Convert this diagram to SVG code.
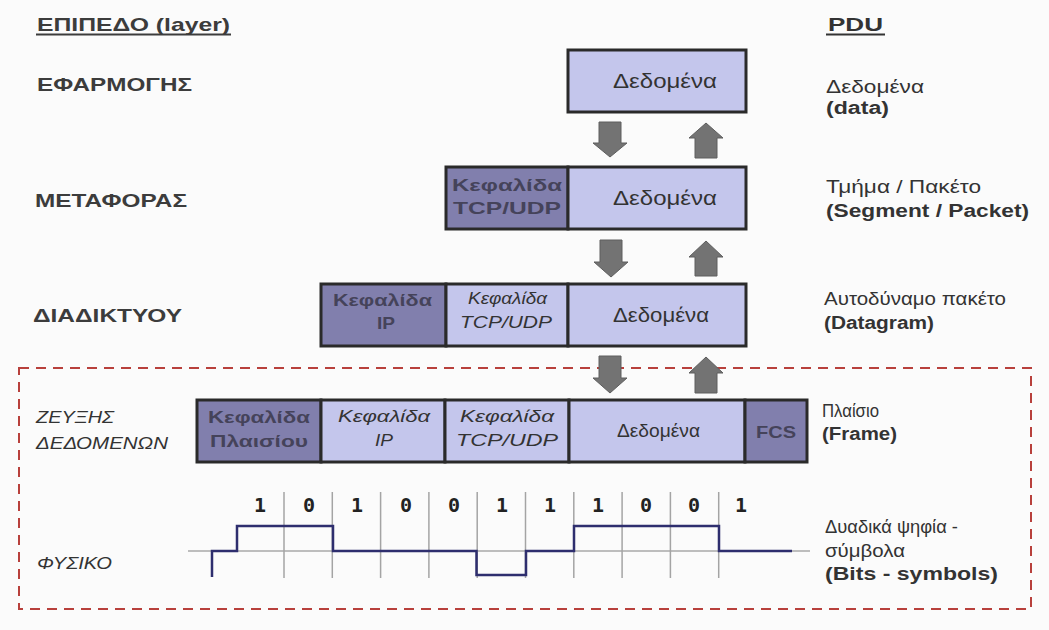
<svg xmlns="http://www.w3.org/2000/svg" width="1049" height="630" viewBox="0 0 1049 630">
<style>
.bl{fill:#c4c6ec;stroke:#2a2a2a;stroke-width:3}
.bd{fill:#817fad;stroke:#2a2a2a;stroke-width:3}
.t{font-family:"Liberation Sans",Arial,sans-serif;fill:#333}
.b{font-weight:bold}
.i{font-style:italic}
.hd{fill:#45435a;font-weight:bold;font-size:17px}
.hi{font-style:italic;font-size:17px;fill:#333}
.lab{font-size:19px;font-weight:bold;fill:#3c3c3c}
.r{font-size:18px}
.arr{fill:#737373;stroke:#5e5e5e;stroke-width:1}
.grid{stroke:#a4a4a4;stroke-width:1.5}
.bit{font-family:"DejaVu Sans Mono","Liberation Mono",monospace;font-weight:bold;font-size:20px;fill:#222;text-anchor:middle}
</style>
<rect width="1049" height="630" fill="#fbfbfb"/>

<g id="frame-link-physical">
<rect x="19" y="368" width="1012" height="241" fill="none" stroke="#b8403c" stroke-width="2" stroke-dasharray="10 7"/>
</g>

<g id="layer-labels" class="t">
<text class="b" x="37" y="31" font-size="18.5" textLength="193" lengthAdjust="spacingAndGlyphs" fill="#3c3c3c">ΕΠΙΠΕΔΟ (layer)</text>
<line x1="36" y1="34.5" x2="231" y2="34.5" stroke="#3c3c3c" stroke-width="2"/>
<text class="lab" x="37" y="91" textLength="155" lengthAdjust="spacingAndGlyphs">ΕΦΑΡΜΟΓΗΣ</text>
<text class="lab" x="35" y="207" textLength="152" lengthAdjust="spacingAndGlyphs">ΜΕΤΑΦΟΡΑΣ</text>
<text class="lab" x="33" y="322" textLength="149" lengthAdjust="spacingAndGlyphs">ΔΙΑΔΙΚΤΥΟΥ</text>
<text class="i" x="36" y="423" font-size="17" textLength="78" lengthAdjust="spacingAndGlyphs">ΖΕΥΞΗΣ</text>
<text class="i" x="36" y="449" font-size="17" textLength="132" lengthAdjust="spacingAndGlyphs">ΔΕΔΟΜΕΝΩΝ</text>
<text class="i" x="37" y="569" font-size="17" textLength="75" lengthAdjust="spacingAndGlyphs">ΦΥΣΙΚΟ</text>
</g>

<g id="pdu-labels" class="t r">
<text class="b" x="828" y="31" font-size="18.5" textLength="55" lengthAdjust="spacingAndGlyphs">PDU</text>
<line x1="826" y1="34.5" x2="885" y2="34.5" stroke="#333" stroke-width="2"/>
<text x="826" y="93" textLength="98" lengthAdjust="spacingAndGlyphs">Δεδομένα</text>
<text class="b" x="826" y="114" textLength="63" lengthAdjust="spacingAndGlyphs">(data)</text>
<text x="826" y="193" textLength="155" lengthAdjust="spacingAndGlyphs">Τμήμα / Πακέτο</text>
<text class="b" x="826" y="217" textLength="203" lengthAdjust="spacingAndGlyphs">(Segment / Packet)</text>
<text x="824" y="305" textLength="182" lengthAdjust="spacingAndGlyphs">Αυτοδύναμο πακέτο</text>
<text class="b" x="824" y="329" textLength="110" lengthAdjust="spacingAndGlyphs">(Datagram)</text>
<text x="822" y="417" textLength="57" lengthAdjust="spacingAndGlyphs">Πλαίσιο</text>
<text class="b" x="822" y="440" textLength="75" lengthAdjust="spacingAndGlyphs">(Frame)</text>
<text x="825" y="533" textLength="133" lengthAdjust="spacingAndGlyphs">Δυαδικά ψηφία -</text>
<text x="825" y="557" textLength="80" lengthAdjust="spacingAndGlyphs">σύμβολα</text>
<text class="b" x="825" y="580" textLength="173" lengthAdjust="spacingAndGlyphs">(Bits - symbols)</text>
</g>

<g id="application" class="t">
<rect class="bl" x="568" y="50" width="178" height="62"/>
<text x="613" y="88" font-size="21" textLength="104" lengthAdjust="spacingAndGlyphs">Δεδομένα</text>
</g>

<g id="transport" class="t">
<rect class="bd" x="446" y="167" width="122" height="62"/>
<rect class="bl" x="568" y="167" width="178" height="62"/>
<text class="hd" x="452" y="191" textLength="110" lengthAdjust="spacingAndGlyphs">Κεφαλίδα</text>
<text class="hd" x="453" y="214" textLength="108" lengthAdjust="spacingAndGlyphs">TCP/UDP</text>
<text x="613" y="205" font-size="21" textLength="104" lengthAdjust="spacingAndGlyphs">Δεδομένα</text>
</g>

<g id="internet" class="t">
<rect class="bd" x="321" y="284" width="125" height="62"/>
<rect class="bl" x="446" y="284" width="122" height="62"/>
<rect class="bl" x="568" y="284" width="178" height="62"/>
<text class="hd" x="333" y="306" textLength="99" lengthAdjust="spacingAndGlyphs">Κεφαλίδα</text>
<text class="hd" x="377" y="329" textLength="18" lengthAdjust="spacingAndGlyphs">IP</text>
<text class="hi" x="468" y="304" textLength="79" lengthAdjust="spacingAndGlyphs">Κεφαλίδα</text>
<text class="hi" x="460" y="328" textLength="92" lengthAdjust="spacingAndGlyphs">TCP/UDP</text>
<text x="613" y="322" font-size="21" textLength="96" lengthAdjust="spacingAndGlyphs">Δεδομένα</text>
</g>

<g id="link" class="t">
<rect class="bd" x="197" y="400" width="124" height="62"/>
<rect class="bl" x="321" y="400" width="124" height="62"/>
<rect class="bl" x="445" y="400" width="124" height="62"/>
<rect class="bl" x="569" y="400" width="176" height="62"/>
<rect class="bd" x="745" y="400" width="62" height="62"/>
<text class="hd" x="208" y="423" textLength="102" lengthAdjust="spacingAndGlyphs">Κεφαλίδα</text>
<text class="hd" x="210" y="447" textLength="98" lengthAdjust="spacingAndGlyphs">Πλαισίου</text>
<text class="hi" x="338" y="422" textLength="92" lengthAdjust="spacingAndGlyphs">Κεφαλίδα</text>
<text class="hi" x="375" y="446" textLength="18" lengthAdjust="spacingAndGlyphs">IP</text>
<text class="hi" x="460" y="422" textLength="94" lengthAdjust="spacingAndGlyphs">Κεφαλίδα</text>
<text class="hi" x="456" y="446" textLength="102" lengthAdjust="spacingAndGlyphs">TCP/UDP</text>
<text x="617" y="437" font-size="18" textLength="83" lengthAdjust="spacingAndGlyphs">Δεδομένα</text>
<text class="hd" x="756" y="438" textLength="40" lengthAdjust="spacingAndGlyphs">FCS</text>
</g>

<g id="physical">
<line x1="188" y1="551" x2="810" y2="551" stroke="#a8a8a8" stroke-width="1.5"/>
<g class="grid">
<line x1="284" y1="492" x2="284" y2="578"/>
<line x1="332.3" y1="492" x2="332.3" y2="578"/>
<line x1="380.6" y1="492" x2="380.6" y2="578"/>
<line x1="428.9" y1="492" x2="428.9" y2="578"/>
<line x1="477.2" y1="492" x2="477.2" y2="578"/>
<line x1="525.5" y1="492" x2="525.5" y2="578"/>
<line x1="573.8" y1="492" x2="573.8" y2="578"/>
<line x1="622.1" y1="492" x2="622.1" y2="578"/>
<line x1="670.4" y1="492" x2="670.4" y2="578"/>
<line x1="718.7" y1="492" x2="718.7" y2="578"/>
</g>
<g class="bit">
<text x="260" y="512">1</text>
<text x="309" y="512">0</text>
<text x="357" y="512">1</text>
<text x="406" y="512">0</text>
<text x="454" y="512">0</text>
<text x="502" y="512">1</text>
<text x="550" y="512">1</text>
<text x="598" y="512">1</text>
<text x="646" y="512">0</text>
<text x="694" y="512">0</text>
<text x="741" y="512">1</text>
</g>
<path d="M212,577 V551 H237 V526 H333 V551 H476.5 V575 H526 V551 H574 V526 H719 V551 H792" fill="none" stroke="#2e2e6e" stroke-width="2.5"/>
</g>

<g id="connectors">
<path class="arr" d="M599,122 H621 V143 H627 L610,157 L593,143 H599 Z"/>
<path class="arr" d="M706,123 L723,138 H717 V158 H695 V138 H689 Z"/>
<path class="arr" d="M600,240 H622 V262 H628 L611,277 L594,262 H600 Z"/>
<path class="arr" d="M706,241 L723,257 H717 V276 H695 V257 H689 Z"/>
<path class="arr" d="M599,356 H621 V378 H627 L610,393 L593,378 H599 Z"/>
<path class="arr" d="M706,357 L723,373 H717 V393 H695 V373 H689 Z"/>
</g>
</svg>
